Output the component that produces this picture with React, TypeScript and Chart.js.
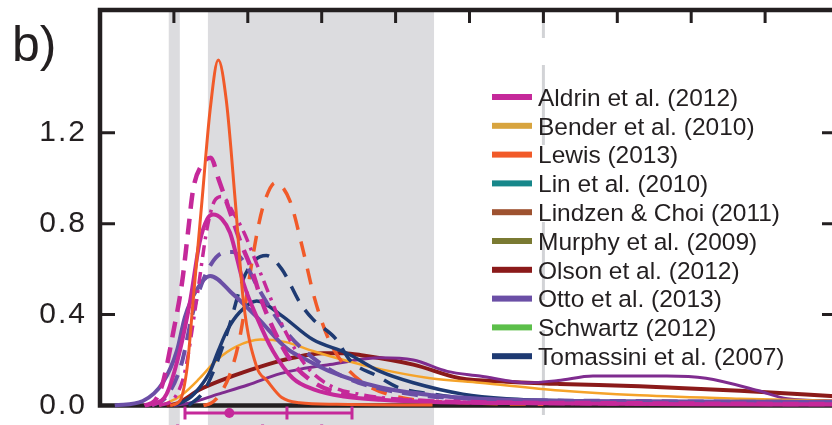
import React, { useEffect, useRef } from 'react';
import { Chart, registerables } from 'chart.js';

Chart.register(...registerables);

const FONT = '"Liberation Sans", Arial, Helvetica, sans-serif';
const INK = '#231f20';

// ---- axes ----
const xMin = 0;
const xMax = 10;
const yMin = 0;
const yMax = 1.74;
const yTickValues = [0, 0.4, 0.8, 1.2];
const xTickValues = [1, 2, 3, 4, 5, 6, 7, 8, 9];

// ---- shaded assessment ranges ----
const extremelyUnlikelyBand = [0.93, 1.08];
const likelyRange = [1.46, 4.52];
const veryUnlikelyAbove = 6;

// ---- legend ----
const legendLabels = [
  'Aldrin et al. (2012)',
  'Bender et al. (2010)',
  'Lewis (2013)',
  'Lin et al. (2010)',
  'Lindzen & Choi (2011)',
  'Murphy et al. (2009)',
  'Olson et al. (2012)',
  'Otto et al. (2013)',
  'Schwartz (2012)',
  'Tomassini et al. (2007)',
];
const legendColors = [
  '#c5299a', '#d8a43e', '#f15a29', '#17878a', '#9e5230',
  '#7a7a32', '#8b1a1a', '#6b4fa6', '#5cbf4a', '#1e3a72',
];

// ---- PDF curves (x = sensitivity, y = density) ----
const lewisSolidX = [0.95, 1.08, 1.18, 1.26, 1.38, 1.49, 1.6, 1.71, 1.83, 1.94, 2.12, 2.26, 2.46, 2.7, 3.2, 4.5];
const lewisSolidY = [0, 0.02, 0.17, 0.46, 0.9, 1.3, 1.52, 1.34, 0.9, 0.46, 0.17, 0.11, 0.035, 0.012, 0.005, 0.002];

const lewisDashedX = [1.4, 1.5, 1.6, 1.75, 1.88, 1.97, 2.05, 2.15, 2.23, 2.37, 2.57, 2.75, 2.88, 2.98, 3.11, 3.3, 3.56, 4.0, 5.0, 6.0];
const lewisDashedY = [0, 0.01, 0.04, 0.13, 0.28, 0.45, 0.62, 0.8, 0.9, 0.98, 0.9, 0.68, 0.5, 0.39, 0.28, 0.18, 0.1, 0.04, 0.012, 0.005];

const aldrinSolidX = [0.7, 0.9, 1.08, 1.22, 1.35, 1.45, 1.53, 1.65, 1.76, 1.94, 2.12, 2.34, 2.61, 2.9, 3.3, 3.8, 4.5, 6, 8, 10];
const aldrinSolidY = [0, 0.05, 0.24, 0.46, 0.72, 0.82, 0.84, 0.82, 0.76, 0.54, 0.39, 0.24, 0.12, 0.07, 0.04, 0.025, 0.015, 0.01, 0.006, 0.004];

const aldrinDashedX = [0.6, 0.74, 0.85, 0.99, 1.11, 1.19, 1.26, 1.38, 1.5, 1.6, 1.75, 1.9, 2.05, 2.2, 2.4, 2.6, 2.9, 3.3, 4.0, 5.0, 7.0, 10];
const aldrinDashedY = [0, 0.02, 0.1, 0.32, 0.54, 0.76, 0.95, 1.06, 1.09, 1.0, 0.86, 0.72, 0.6, 0.45, 0.3, 0.19, 0.1, 0.05, 0.025, 0.015, 0.01, 0.006];

const aldrinDotDashX = [0.8, 1.0, 1.15, 1.3, 1.45, 1.55, 1.65, 1.8, 1.95, 2.1, 2.25, 2.4, 2.6, 2.8, 3.1, 3.5, 4.5, 6, 10];
const aldrinDotDashY = [0, 0.03, 0.15, 0.45, 0.78, 0.9, 0.92, 0.85, 0.76, 0.64, 0.52, 0.4, 0.27, 0.17, 0.09, 0.05, 0.02, 0.01, 0.005];

const ottoSolidX = [0.2, 0.58, 0.85, 1.04, 1.15, 1.31, 1.49, 1.8, 2.12, 2.53, 2.8, 3.11, 3.79, 4.5, 5.14, 6, 8, 10];
const ottoSolidY = [0, 0.02, 0.1, 0.24, 0.39, 0.51, 0.57, 0.49, 0.39, 0.25, 0.2, 0.15, 0.08, 0.045, 0.03, 0.022, 0.018, 0.015];

const ottoDashedX = [0.7, 0.9, 1.1, 1.25, 1.37, 1.5, 1.65, 1.8, 1.95, 2.17, 2.34, 2.53, 2.77, 3.1, 3.5, 4.2, 5, 7, 10];
const ottoDashedY = [0, 0.04, 0.18, 0.4, 0.53, 0.62, 0.67, 0.675, 0.63, 0.5, 0.41, 0.32, 0.24, 0.16, 0.1, 0.05, 0.03, 0.02, 0.015];

const ottoThinX = [1.0, 1.2, 1.6, 2.0, 2.44, 2.71, 3.11, 3.79, 4.24, 4.7, 5.14, 5.78, 6.2, 6.67, 7.3, 7.67, 8.2, 8.9, 9.3, 10];
const ottoThinY = [0, 0.01, 0.05, 0.09, 0.14, 0.16, 0.18, 0.21, 0.2, 0.15, 0.13, 0.1, 0.11, 0.13, 0.13, 0.13, 0.12, 0.066, 0.03, 0.02];

const tomassiniSolidX = [1.0, 1.2, 1.35, 1.49, 1.6, 1.72, 1.89, 2.12, 2.44, 2.88, 3.34, 3.79, 4.24, 4.91, 5.5, 6.5, 8, 10];
const tomassiniSolidY = [0, 0.03, 0.08, 0.15, 0.24, 0.33, 0.41, 0.46, 0.4, 0.29, 0.23, 0.15, 0.1, 0.05, 0.03, 0.02, 0.015, 0.01];

const tomassiniDashedX = [1.2, 1.4, 1.56, 1.75, 1.93, 2.1, 2.25, 2.46, 2.71, 2.88, 3.2, 3.38, 3.75, 4.03, 4.5, 5, 6, 8, 10];
const tomassiniDashedY = [0, 0.06, 0.17, 0.35, 0.55, 0.64, 0.66, 0.6, 0.45, 0.38, 0.29, 0.2, 0.13, 0.08, 0.05, 0.03, 0.018, 0.012, 0.01];

const benderX = [0.8, 0.9, 1.12, 1.35, 1.58, 1.85, 2.17, 2.5, 2.88, 3.3, 3.79, 4.47, 5.14, 6.22, 7.3, 8.66, 10];
const benderY = [0, 0.01, 0.05, 0.12, 0.2, 0.26, 0.29, 0.28, 0.24, 0.2, 0.16, 0.12, 0.1, 0.066, 0.045, 0.03, 0.02];

const olsonX = [0.9, 1.05, 1.35, 1.8, 2.26, 2.61, 3.02, 3.3, 3.56, 4.24, 4.87, 5.5, 6.22, 7.3, 8.66, 10];
const olsonY = [0, 0.01, 0.07, 0.13, 0.18, 0.21, 0.23, 0.23, 0.22, 0.18, 0.12, 0.105, 0.095, 0.085, 0.065, 0.04];

// ---- Aldrin range bars below the axis (5-95 %, median, mode) ----
const whiskerLow = [1.15, 1.05];
const whiskerHigh = [3.41, 3.0];
const whiskerMedian = [2.53, 2.2];
const whiskerMode = [1.75, 1.53];

const series = [
  { label: 'Lewis (2013)', xs: lewisSolidX, ys: lewisSolidY, color: '#f15a29', width: 3, dash: [] as number[] },
  { label: 'Aldrin et al. (2012)', xs: aldrinSolidX, ys: aldrinSolidY, color: '#c5299a', width: 4, dash: [] },
  { label: 'Aldrin et al. (2012)', xs: aldrinDashedX, ys: aldrinDashedY, color: '#c5299a', width: 4.5, dash: [16, 10] },
  { label: 'Aldrin et al. (2012)', xs: aldrinDotDashX, ys: aldrinDotDashY, color: '#c5299a', width: 3.5, dash: [12, 6, 3, 6] },
  { label: 'Otto et al. (2013)', xs: ottoSolidX, ys: ottoSolidY, color: '#6b4fa6', width: 4, dash: [] },
  { label: 'Otto et al. (2013)', xs: ottoDashedX, ys: ottoDashedY, color: '#6b4fa6', width: 4, dash: [16, 10] },
  { label: 'Tomassini et al. (2007)', xs: tomassiniSolidX, ys: tomassiniSolidY, color: '#1e3a72', width: 3.5, dash: [] },
  { label: 'Tomassini et al. (2007)', xs: tomassiniDashedX, ys: tomassiniDashedY, color: '#1e3a72', width: 3.5, dash: [16, 11] },
  { label: 'Lewis (2013)', xs: lewisDashedX, ys: lewisDashedY, color: '#f15a29', width: 3.5, dash: [16, 12] },
  { label: 'Bender et al. (2010)', xs: benderX, ys: benderY, color: '#f5a32a', width: 2.5, dash: [] },
  { label: 'Otto et al. (2013)', xs: ottoThinX, ys: ottoThinY, color: '#7f2c8f', width: 3, dash: [] },
  { label: 'Olson et al. (2012)', xs: olsonX, ys: olsonY, color: '#8b1a1a', width: 4, dash: [] },
];

const decor = {
  id: 'decor',
  beforeDraw(chart: any) {
    chart.ctx.letterSpacing = '2px';
  },
  beforeDatasetsDraw(chart: any) {
    const ctx = chart.ctx;
    ctx.letterSpacing = '0px';
    const { left, right, top, bottom } = chart.chartArea;
    const xs = chart.scales.x;
    const ys = chart.scales.y;
    const H = chart.height;
    ctx.save();
    // shaded ranges
    ctx.fillStyle = '#dcdcdf';
    for (const band of [extremelyUnlikelyBand, likelyRange]) {
      const xa = xs.getPixelForValue(band[0]);
      const xb = xs.getPixelForValue(band[1]);
      ctx.fillRect(xa, top, xb - xa, H - top);
    }
    // very unlikely threshold line
    const x6 = xs.getPixelForValue(veryUnlikelyAbove);
    ctx.strokeStyle = '#d2d3d6';
    ctx.lineWidth = 3;
    ctx.beginPath();
    for (const [a, b] of [[top + 2, 38], [65, 145], [222, 300], [330, 415]]) {
      ctx.moveTo(x6, a);
      ctx.lineTo(x6, b);
    }
    ctx.stroke();
    // frame
    ctx.strokeStyle = INK;
    ctx.lineWidth = 4.5;
    ctx.strokeRect(left, top, right - left, bottom - top);
    // inward ticks
    ctx.lineWidth = 3;
    ctx.beginPath();
    for (const v of xTickValues) {
      const px = xs.getPixelForValue(v);
      ctx.moveTo(px, top);
      ctx.lineTo(px, top + 13);
    }
    for (const v of yTickValues) {
      if (v === 0) continue;
      const py = ys.getPixelForValue(v);
      ctx.moveTo(left, py);
      ctx.lineTo(left + 15, py);
      ctx.moveTo(right, py);
      ctx.lineTo(right - 17, py);
    }
    ctx.stroke();
    // range bars below the axis
    ctx.strokeStyle = '#c5299a';
    ctx.fillStyle = '#c5299a';
    ctx.lineWidth = 3;
    whiskerLow.forEach((lo, i) => {
      const yRow = bottom + 7.5 + i * 18;
      const a = xs.getPixelForValue(lo);
      const b = xs.getPixelForValue(whiskerHigh[i]);
      const m = xs.getPixelForValue(whiskerMedian[i]);
      const d = xs.getPixelForValue(whiskerMode[i]);
      ctx.beginPath();
      ctx.moveTo(a, yRow);
      ctx.lineTo(b, yRow);
      ctx.moveTo(a, yRow - 6.5);
      ctx.lineTo(a, yRow + 6.5);
      ctx.moveTo(b, yRow - 6.5);
      ctx.lineTo(b, yRow + 6.5);
      ctx.moveTo(m, yRow - 6.5);
      ctx.lineTo(m, yRow + 6.5);
      ctx.stroke();
      ctx.beginPath();
      ctx.arc(d, yRow, 5, 0, Math.PI * 2);
      ctx.fill();
    });
    ctx.restore();
  },
  afterDatasetsDraw(chart: any) {
    const ctx = chart.ctx;
    ctx.save();
    ctx.letterSpacing = '0px';
    // legend
    ctx.font = `24.5px ${FONT}`;
    ctx.textAlign = 'left';
    ctx.textBaseline = 'alphabetic';
    legendLabels.forEach((lab, i) => {
      const cy = 97 + i * 28.8;
      ctx.fillStyle = legendColors[i];
      ctx.fillRect(492, cy - 3, 40, 6);
      ctx.fillStyle = INK;
      ctx.fillText(lab, 538, cy + 8.8);
    });
    // panel label
    ctx.font = `50px ${FONT}`;
    ctx.fillStyle = INK;
    ctx.fillText('b)', 12, 61);
    ctx.restore();
  },
};

export default function App() {
  const ref = useRef<HTMLCanvasElement>(null);
  useEffect(() => {
    const canvas = ref.current;
    if (!canvas) return;
    const chart = new Chart(canvas, {
      type: 'line',
      data: {
        datasets: series.map((s) => ({
          label: s.label,
          data: s.xs.map((x, i) => ({ x, y: s.ys[i] })),
          borderColor: s.color,
          backgroundColor: s.color,
          borderWidth: s.width,
          borderDash: s.dash,
          fill: false,
          pointRadius: 0,
          clip: false as any,
        })),
      },
      options: {
        responsive: false,
        animation: false,
        devicePixelRatio: 1,
        events: [],
        layout: { padding: { left: 0, top: 10, right: 11, bottom: 34.5 } },
        elements: {
          point: { radius: 0 },
          line: { cubicInterpolationMode: 'monotone', borderCapStyle: 'butt', borderJoinStyle: 'round' },
        },
        plugins: { legend: { display: false }, tooltip: { enabled: false }, title: { display: false } },
        scales: {
          x: { type: 'linear', min: xMin, max: xMax, display: false },
          y: {
            type: 'linear',
            min: yMin,
            max: yMax,
            afterFit(s: any) {
              s.width = 100;
              s.paddingTop = 0;
              s.paddingBottom = 0;
            },
            ticks: {
              stepSize: 0.4,
              includeBounds: false,
              padding: 13,
              color: INK,
              font: { family: FONT, size: 30 },
              callback: (v: any) => (Number(v) <= 1.21 ? Number(v).toFixed(1) : ''),
            },
            grid: { display: false, drawTicks: false },
            border: { display: false },
          },
        },
      } as any,
      plugins: [decor],
    });
    return () => chart.destroy();
  }, []);
  return (
    <div style={{ position: 'fixed', left: 0, top: 0, width: 832, height: 425, overflow: 'hidden', background: '#fff' }}>
      <canvas ref={ref} width={850} height={440} style={{ display: 'block', width: 850, height: 440 }} />
    </div>
  );
}
